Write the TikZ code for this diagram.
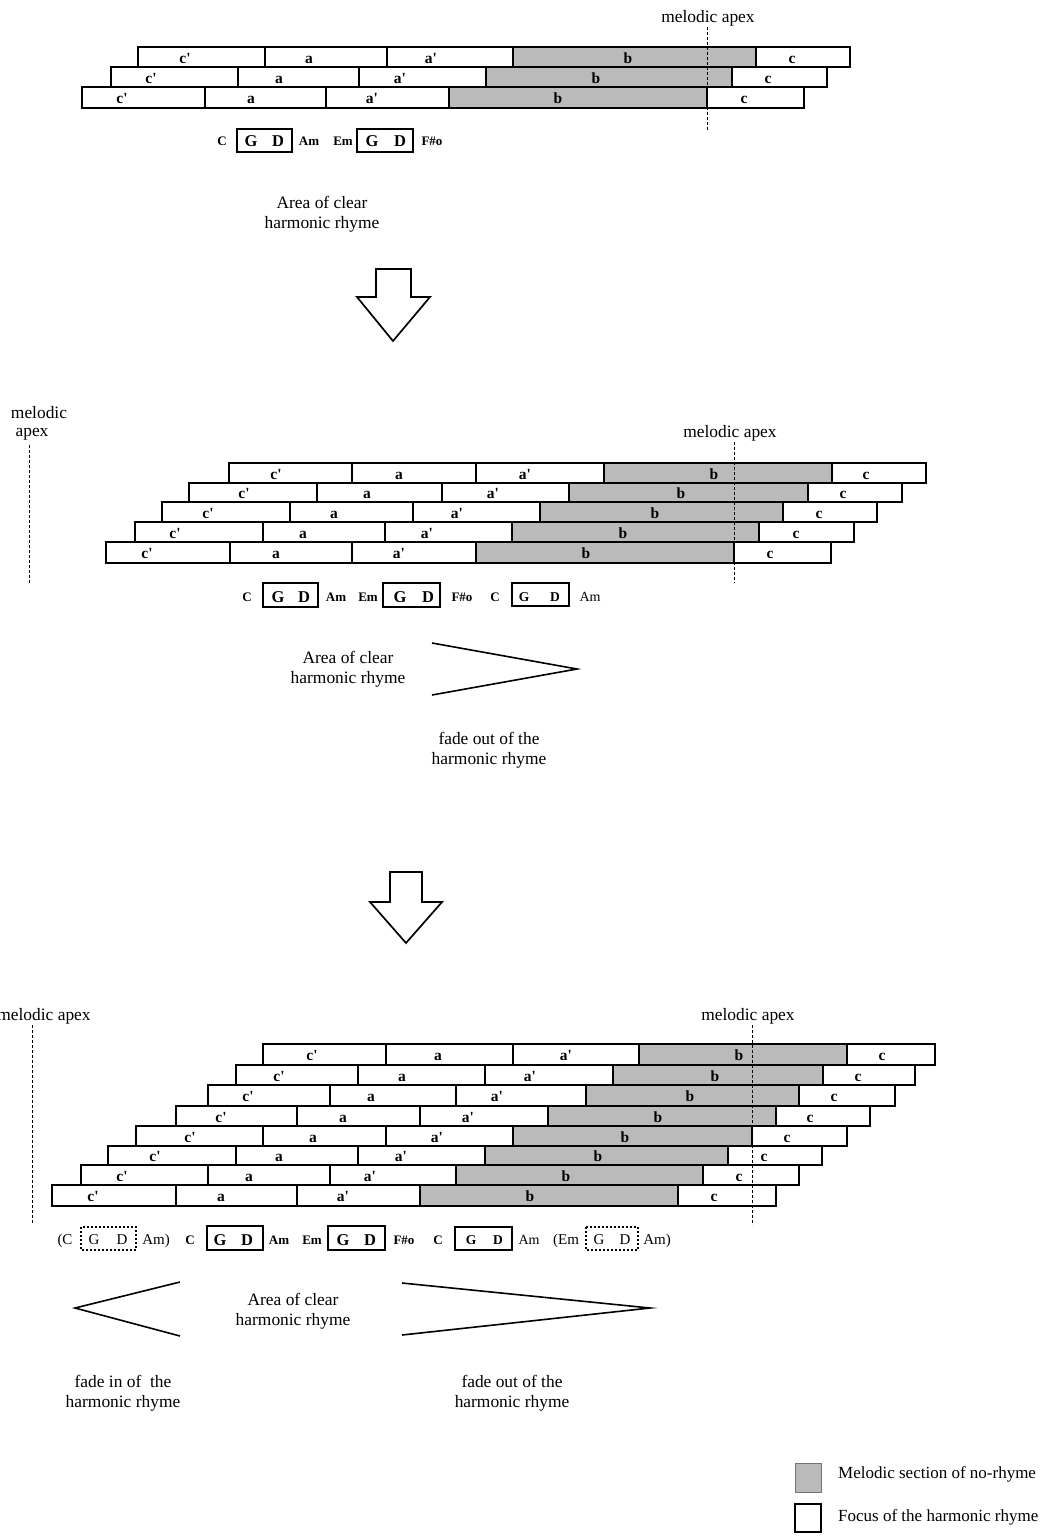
\documentclass[tikz,border=0pt]{standalone}
\usepackage{fontspec}
\setmainfont{Liberation Serif}[Ligatures=TeXOff]
\definecolor{nrgray}{RGB}{186,186,186}
\newcommand\rowbox[8]{% ytop ybot x0 x1 x2 x3 x4 x5
  \fill[nrgray] ({#6+0.6},{#1+0.6}) rectangle ({#7-0.6},{#2-0.6});
  \draw[seg] (#3,#1) rectangle (#8,#2);
  \draw[seg] (#4,#1) -- (#4,#2) (#5,#1) -- (#5,#2) (#6,#1) -- (#6,#2) (#7,#1) -- (#7,#2);
}
\newcommand\rowlab[7]{% name baseline l1..l5
  \node[lab] (#1c1) at (#3,#2) {c'};
  \node[lab] (#1a) at (#4,#2) {a};
  \node[lab] (#1a1) at (#5,#2) {a'};
  \node[lab] (#1b) at (#6,#2) {b};
  \node[lab] (#1c) at (#7,#2) {c};
}
\begin{document}
\begin{tikzpicture}[x=1pt,y=-1pt,
  seg/.style={draw=black,line width=1.2pt},
  lab/.style={font=\fontsize{15.5}{15.5}\selectfont\bfseries,inner sep=0pt,anchor=base},
  chd/.style={font=\fontsize{13}{13}\selectfont\bfseries,inner sep=0pt,anchor=base},
  chdr/.style={font=\fontsize{15}{15}\selectfont,inner sep=0pt,anchor=base},
  gdb/.style={font=\fontsize{16.5}{16.5}\selectfont\bfseries,inner sep=0pt,anchor=base},
  gds/.style={font=\fontsize{13.5}{13.5}\selectfont\bfseries,inner sep=0pt,anchor=base},
  gdr/.style={font=\fontsize{15}{15}\selectfont,inner sep=0pt,anchor=base},
  boxb/.style={draw,line width=2.6pt},
  boxt/.style={draw,line width=1.2pt},
  boxd/.style={draw,line width=1.1pt,dash pattern=on 2pt off 2pt},
  apex/.style={line width=1pt,dash pattern=on 3pt off 2pt},
  txt/.style={font=\fontsize{17.4}{20.5}\selectfont,align=center,inner sep=0pt},
  legt/.style={font=\fontsize{17}{20}\selectfont,inner sep=0pt,anchor=west},
  wedge/.style={line width=1.6pt},
  blk/.style={draw,line width=1.7pt,fill=white,line join=miter}]

\useasboundingbox (0,0) rectangle (1047,1537);
\fill[white] (0,0) rectangle (1047,1537);

% ===================== Diagram 1 =====================
\rowbox{47}{67}{138}{265}{387}{513}{756}{850}
\rowbox{67}{87}{111}{238}{359}{486}{732}{827}
\rowbox{87}{108}{82}{205}{326}{449}{707}{804}
\rowlab{pa1}{63}{185}{309}{431}{628}{792}
\rowlab{pa2}{83}{151}{279}{400}{596}{768}
\rowlab{pa3}{103.5}{122}{251}{372}{558}{744}

\node[txt] (apexA) at (708,18) {melodic apex};
\coordinate (apexAtop) at (707,27);
\coordinate (apexAbot) at (707,130);
\draw[apex] (apexAtop) -- (apexAbot);

\draw[boxb] (237,129) rectangle (292,152);
\draw[boxb] (357,129) rectangle (413,152);
\node[chd] (a1C) at (222,145) {C};
\node[gdb] (a1G) at (251,146) {G};
\node[gdb] (a1D) at (278,146) {D};
\node[chd] (a1Am) at (309,145) {Am};
\node[chd] (a1Em) at (343,145) {Em};
\node[gdb] (a2G) at (372,146) {G};
\node[gdb] (a2D) at (400,146) {D};
\node[chd] (a1F) at (432,145) {F\#o};

\node[txt] (areaA) at (322,214) {Area of clear\\harmonic rhyme};

% arrow 1
\draw[blk] (376,269) -- (411,269) -- (411,297) -- (430,297) -- (393,341) -- (357,297) -- (376,297) -- cycle;

% ===================== Diagram 2 =====================
\rowbox{463}{483}{229}{352}{476}{604}{832}{926}
\rowbox{483}{502}{189}{317}{442}{569}{808}{902}
\rowbox{502}{522}{162}{290}{413}{540}{783}{877}
\rowbox{522}{542}{135}{263}{385}{512}{759}{854}
\rowbox{542}{563}{106}{230}{352}{476}{734}{831}
\rowlab{pb1}{479}{276}{399}{525}{714}{866}
\rowlab{pb2}{498.5}{244}{367}{493}{681}{843}
\rowlab{pb3}{518}{208}{334}{457}{655}{819}
\rowlab{pb4}{538}{175}{303}{427}{623}{796}
\rowlab{pb5}{558.5}{147}{276}{399}{586}{770}

\node[txt] (apexB) at (730,433) {melodic apex};
\coordinate (apexBtop) at (734,442);
\coordinate (apexBbot) at (734,583);
\draw[apex] (apexBtop) -- (apexBbot);
\node[txt] (apexBl1) at (39,413) {melodic};
\node[txt] (apexBl2) at (32,434) {apex};
\coordinate (apexBltop) at (29,445);
\coordinate (apexBlbot) at (29,583);
\draw[apex] (apexBltop) -- (apexBlbot);

\draw[boxb] (263,583) rectangle (318,607);
\draw[boxb] (383,583) rectangle (440,607);
\draw[boxt] (512,583) rectangle (569,606);
\node[chd] (b1C) at (247,601) {C};
\node[gdb] (b1G) at (278,602) {G};
\node[gdb] (b1D) at (304,602) {D};
\node[chd] (b1Am) at (336,601) {Am};
\node[chd] (b1Em) at (368,601) {Em};
\node[gdb] (b2G) at (400,602) {G};
\node[gdb] (b2D) at (428,602) {D};
\node[chd] (b1F) at (462,601) {F\#o};
\node[chd] (b2C) at (495,601) {C};
\node[gds] (b3G) at (524,601) {G};
\node[gds] (b3D) at (555,601) {D};
\node[chdr,font=\fontsize{14}{14}\selectfont] (b2Am) at (590,601) {Am};

\node[txt] (areaB) at (348,669) {Area of clear\\harmonic rhyme};
\coordinate (wB1) at (432,643);
\coordinate (wB2) at (577,669);
\coordinate (wB3) at (432,695);
\draw[wedge] (wB1) -- (wB2) -- (wB3);
\node[txt] (fadeB) at (489,750) {fade out of the\\harmonic rhyme};

% arrow 2
\draw[blk] (390,872) -- (422,872) -- (422,902) -- (442,902) -- (406,943) -- (370,902) -- (390,902) -- cycle;

% ===================== Diagram 3 =====================
\rowbox{1044}{1065}{263}{386}{513}{639}{847}{935}
\rowbox{1065}{1085}{236}{358}{485}{613}{823}{915}
\rowbox{1085}{1106}{208}{330}{456}{586}{799}{895}
\rowbox{1106}{1126}{176}{297}{420}{548}{776}{870}
\rowbox{1126}{1146}{136}{263}{386}{513}{752}{847}
\rowbox{1146}{1165}{108}{236}{358}{485}{728}{822}
\rowbox{1165}{1185}{81}{208}{330}{456}{703}{799}
\rowbox{1185}{1206}{52}{176}{297}{420}{678}{776}
\rowlab{pc1}{1060.5}{312}{438}{566}{739}{882}
\rowlab{pc2}{1081}{279}{402}{530}{715}{858}
\rowlab{pc3}{1101.5}{248}{371}{497}{690}{834}
\rowlab{pc4}{1122}{221}{343}{468}{658}{810}
\rowlab{pc5}{1142}{190}{313}{437}{625}{787}
\rowlab{pc6}{1161.5}{155}{279}{401}{598}{764}
\rowlab{pc7}{1181}{122}{249}{370}{566}{739}
\rowlab{pc8}{1201.5}{93}{221}{343}{530}{714}

\node[txt] (apexC) at (748,1016) {melodic apex};
\coordinate (apexCtop) at (752,1025);
\coordinate (apexCbot) at (752,1225);
\draw[apex] (apexCtop) -- (apexCbot);
\node[txt] (apexCl) at (44,1016) {melodic apex};
\coordinate (apexCltop) at (32,1025);
\coordinate (apexClbot) at (32,1223);
\draw[apex] (apexCltop) -- (apexClbot);

\draw[boxd] (81,1227) rectangle (136,1250);
\draw[boxb] (207,1226) rectangle (263,1250);
\draw[boxb] (328,1226) rectangle (385,1250);
\draw[boxt] (455,1227) rectangle (512,1250);
\draw[boxd] (586,1227) rectangle (638,1250);
\node[chdr] (c0C) at (65,1244) {(C};
\node[gdr] (c0G) at (94,1244) {G};
\node[gdr] (c0D) at (122,1244) {D};
\node[chdr] (c0Am) at (156,1244) {Am)};
\node[chd] (c1C) at (190,1244) {C};
\node[gdb] (c1G) at (220,1245) {G};
\node[gdb] (c1D) at (247,1245) {D};
\node[chd] (c1Am) at (279,1244) {Am};
\node[chd] (c1Em) at (312,1244) {Em};
\node[gdb] (c2G) at (343,1245) {G};
\node[gdb] (c2D) at (370,1245) {D};
\node[chd] (c1F) at (404,1244) {F\#o};
\node[chd] (c2C) at (438,1244) {C};
\node[gds] (c3G) at (471,1244) {G};
\node[gds] (c3D) at (498,1244) {D};
\node[chdr,font=\fontsize{14}{14}\selectfont] (c2Am) at (529,1244) {Am};
\node[chdr] (c4Em) at (566,1244) {(Em};
\node[gdr] (c4G) at (599,1244) {G};
\node[gdr] (c4D) at (625,1244) {D};
\node[chdr] (c4Am) at (657,1244) {Am)};

\coordinate (wL1) at (180,1282);
\coordinate (wL2) at (75,1308);
\coordinate (wL3) at (180,1336);
\draw[wedge] (wL1) -- (wL2) -- (wL3);
\coordinate (wR1) at (402,1283);
\coordinate (wR2) at (650,1308);
\coordinate (wR3) at (402,1335);
\draw[wedge] (wR1) -- (wR2) -- (wR3);
\node[txt] (areaC) at (293,1311) {Area of clear\\harmonic rhyme};
\node[txt] (fadeinC) at (123,1393) {fade in of~ the\\harmonic rhyme};
\node[txt] (fadeoutC) at (512,1393) {fade out of the\\harmonic rhyme};

% ===================== Legend =====================
\draw[fill=nrgray,draw=black!55,line width=0.8pt] (795,1463) rectangle (821,1492);
\draw[line width=1.3pt] (795,1504) rectangle (821,1532);
\node[legt] (legA) at (838,1474) {Melodic section of no-rhyme};
\node[legt] (legB) at (838,1517) {Focus of the harmonic rhyme};
\end{tikzpicture}
\end{document}
